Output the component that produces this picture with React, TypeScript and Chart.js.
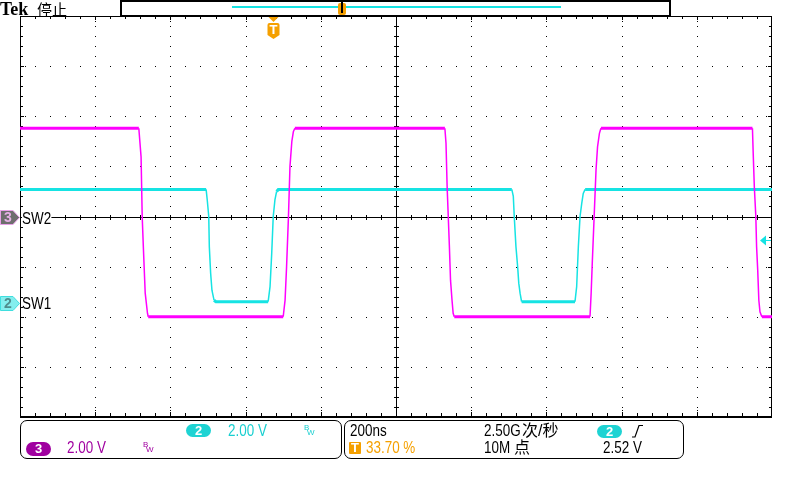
import React, { useEffect, useRef } from "react";
import { Chart, registerables } from "chart.js";

Chart.register(...registerables);

// ---- Horizontal (time) settings: 200 ns/div, 10 divisions ----
const TIME_MIN_NS = 0;
const TIME_MAX_NS = 2000;
const TIME_PER_DIV_NS = 200;
const DIVS_X = 10;
const DIVS_Y = 8;
const TRIGGER_TIME_NS = 674; // 33.70 % of record

// ---- Channel 3 (SW2, magenta): 2.00 V/div, position 0 div ----
const CH3_VOLTS_PER_DIV = 2;
const CH3_POSITION_DIV = 0;
const CH3_TIME_NS = [
  0, 316, 322, 325, 328, 333, 339, 341,
  700, 705, 709, 714, 718, 723, 727, 731,
  1130, 1133, 1136, 1139, 1142, 1145, 1149, 1152, 1155,
  1516, 1519, 1522, 1527, 1532, 1536, 1541, 1545,
  1948, 1950, 1953, 1957, 1959, 1962, 1965, 1968, 1973, 2000,
];
const CH3_VOLTS = [
  3.52, 3.52, 2.38, 0, -1.2, -3.06, -3.86, -4.0,
  -4.0, -3.34, -2.0, 0, 2.0, 3.0, 3.38, 3.52,
  3.52, 2.92, 1.18, 0, -1.2, -2.54, -3.34, -3.86, -4.0,
  -4.0, -3.06, -1.86, 0, 1.86, 2.78, 3.32, 3.52,
  3.52, 2.52, 1.18, 0, -1.2, -2.14, -3.34, -3.8, -4.0, -4.0,
];

// ---- Channel 2 (SW1, cyan): 2.00 V/div, position -1.73 div ----
const CH2_VOLTS_PER_DIV = 2;
const CH2_POSITION_DIV = -1.73;
const CH2_TIME_NS = [
  0, 495, 498, 502, 503.5, 507, 510.5, 516, 521,
  660, 665, 669.5, 673.5, 678, 682.5, 687,
  1308, 1312, 1314.5, 1319, 1323.5, 1326.5, 1330, 1334,
  1476, 1480.5, 1485, 1489.5, 1494, 1498, 1503, 2000,
];
const CH2_VOLTS = [
  4.54, 4.54, 4.12, 3.46, 2.26, 1.2, 0.52, 0.12, 0.06,
  0.06, 0.66, 2.0, 3.46, 4.12, 4.46, 4.54,
  4.54, 4.26, 3.46, 2.26, 1.46, 0.8, 0.4, 0.06,
  0.06, 0.66, 2.26, 3.46, 3.98, 4.38, 4.54, 4.54,
];
const TRIGGER_LEVEL_V = 2.52;

// ---- Readout texts ----
const CH_LABELS = ["SW2", "SW1"];
const READOUT_CH2 = "2.00 V";
const READOUT_CH3 = "2.00 V";
const READOUT_TIMEBASE = "200ns";
const READOUT_RATE_NUM = "2.50G";
const READOUT_RATE_UNIT = "次/秒";
const READOUT_TRIG_POS = "33.70 %";
const READOUT_LEN_NUM = "10M";
const READOUT_LEN_UNIT = "点";
const READOUT_TRIG_LEVEL = "2.52 V";

const MAGENTA = "#ff00ff";
const CYAN = "#16e3e3";
const CYAN_TXT = "#19cfd0";
const PURPLE = "#a000a0";
const ORANGE = "#f5a000";

const LAT = '"Liberation Sans", "Noto Sans CJK SC", sans-serif';

const toDiv = (v: number, vpd: number, pos: number) => v / vpd + pos;

const scopePlugin = {
  id: "scopeGraticule",
  beforeDatasetsDraw(chart: any) {
    const { ctx, chartArea: ca, scales } = chart;
    const xs = scales.x;
    const ys = scales.y;
    const px = (t: number) => Math.round(xs.getPixelForValue(t));
    const py = (v: number) => Math.round(ys.getPixelForValue(v));
    const minorT = TIME_PER_DIV_NS / 5;
    const nT = Math.round((TIME_MAX_NS - TIME_MIN_NS) / minorT);
    const nV = DIVS_Y * 5;
    const tAt = (i: number) => TIME_MIN_NS + i * minorT;
    const vAt = (j: number) => -DIVS_Y / 2 + j * 0.2;
    const w = ca.right - ca.left;
    const h = ca.bottom - ca.top;
    ctx.save();
    ctx.fillStyle = "#000";
    // vertical graticule lines
    for (let k = 1; k < DIVS_X; k++) {
      const x = px(TIME_MIN_NS + k * TIME_PER_DIV_NS);
      if (k === DIVS_X / 2) {
        ctx.fillRect(x, ca.top, 1, h);
        for (let j = 1; j < nV; j++) ctx.fillRect(x - 2, py(vAt(j)), 5, 1);
      } else {
        for (let j = 1; j < nV; j++) ctx.fillRect(x, py(vAt(j)), 1, 1);
      }
      for (const d of [1, 3, 5]) {
        ctx.fillRect(x, ca.top + d, 1, 1);
        ctx.fillRect(x, ca.bottom - 2 - d, 1, 1);
      }
    }
    // horizontal graticule lines
    for (let k = 1; k < DIVS_Y; k++) {
      const v = -DIVS_Y / 2 + k;
      const y = py(v);
      if (v === 0) {
        ctx.fillRect(ca.left, y, w, 1);
        for (let i = 1; i < nT; i++) ctx.fillRect(px(tAt(i)), y - 2, 1, 5);
      } else {
        for (let i = 1; i < nT; i++) ctx.fillRect(px(tAt(i)), y, 1, 1);
      }
      for (const d of [1, 3, 5]) {
        ctx.fillRect(ca.left + d, y, 1, 1);
        ctx.fillRect(ca.right - 1 - d, y, 1, 1);
      }
    }
    // border ticks
    for (let i = 1; i < nT; i++) {
      const x = px(tAt(i));
      ctx.fillRect(x, ca.top, 1, 3);
      ctx.fillRect(x, ca.bottom - 4, 1, 3);
    }
    for (let j = 1; j < nV; j++) {
      const y = py(vAt(j));
      ctx.fillRect(ca.left, y, 3, 1);
      ctx.fillRect(ca.right - 3, y, 3, 1);
    }
    // borders
    ctx.fillRect(ca.left, ca.top, 1, h);
    ctx.fillRect(ca.right - 1, ca.top, 1, h);
    ctx.fillRect(ca.left, ca.top, w, 1);
    ctx.fillRect(ca.left, ca.bottom - 1, w, 2);
    ctx.restore();
  },
  afterDatasetsDraw(chart: any) {
    const { ctx, chartArea: ca, scales } = chart;
    const xs = scales.x;
    const ys = scales.y;
    ctx.save();
    // trigger position marker
    const tx = Math.round(xs.getPixelForValue(TRIGGER_TIME_NS)) + 0.5;
    ctx.fillStyle = ORANGE;
    ctx.beginPath();
    ctx.moveTo(tx - 5, ca.top + 1);
    ctx.lineTo(tx + 5, ca.top + 1);
    ctx.lineTo(tx, ca.top + 6);
    ctx.closePath();
    ctx.fill();
    const st = ca.top + 7;
    ctx.beginPath();
    ctx.moveTo(tx - 6, st + 2);
    ctx.quadraticCurveTo(tx - 6, st, tx - 4, st);
    ctx.lineTo(tx + 4, st);
    ctx.quadraticCurveTo(tx + 6, st, tx + 6, st + 2);
    ctx.lineTo(tx + 6, st + 12);
    ctx.lineTo(tx, st + 16);
    ctx.lineTo(tx - 6, st + 12);
    ctx.closePath();
    ctx.fill();
    ctx.fillStyle = "#fff";
    ctx.font = 'bold 13px "Liberation Sans"';
    ctx.textAlign = "center";
    ctx.textBaseline = "middle";
    ctx.fillText("T", tx, st + 7);

    // channel ground markers
    const drawMarker = (yc: number, fill: string, stroke: string, txtCol: string, label: string) => {
      ctx.beginPath();
      ctx.moveTo(0.5, yc - 7);
      ctx.lineTo(13, yc - 7);
      ctx.lineTo(19.5, yc);
      ctx.lineTo(13, yc + 7);
      ctx.lineTo(0.5, yc + 7);
      ctx.closePath();
      ctx.fillStyle = fill;
      ctx.fill();
      ctx.strokeStyle = stroke;
      ctx.lineWidth = 1;
      ctx.stroke();
      ctx.fillStyle = txtCol;
      ctx.font = 'bold 14px "Liberation Sans"';
      ctx.textAlign = "center";
      ctx.textBaseline = "middle";
      ctx.fillText(label, 8, yc + 1);
    };
    drawMarker(Math.round(ys.getPixelForValue(CH3_POSITION_DIV)) + 0.5, "#6e6e6e", "#e8a0e8", "#e6b0e6", "3");
    drawMarker(Math.round(ys.getPixelForValue(CH2_POSITION_DIV)) + 0.5, "#84eeee", "#3fdede", "#4f8d8d", "2");

    // trigger level marker (right)
    const ly = Math.round(ys.getPixelForValue(toDiv(TRIGGER_LEVEL_V, CH2_VOLTS_PER_DIV, CH2_POSITION_DIV))) + 0.5;
    ctx.fillStyle = CYAN;
    ctx.beginPath();
    ctx.moveTo(ca.right - 12, ly);
    ctx.lineTo(ca.right - 6, ly - 5);
    ctx.lineTo(ca.right - 6, ly + 5);
    ctx.closePath();
    ctx.fill();
    ctx.fillRect(ca.right - 6, ly - 0.5, 5, 1);
    ctx.restore();
  },
};

function Txt(props: any) {
  const { x, base, size = 16, color = "#000", sx = 0.84, weight = 400, family = LAT, bg, children } = props;
  const top = base - 0.8465 * size;
  return (
    <span
      style={{
        position: "absolute",
        left: x,
        top,
        fontSize: size,
        lineHeight: `${size}px`,
        color,
        fontFamily: family,
        fontWeight: weight,
        whiteSpace: "nowrap",
        transform: `scaleX(${sx})`,
        transformOrigin: "0 0",
        background: bg,
      }}
    >
      {children}
    </span>
  );
}

function Pill(props: any) {
  const { x, y, w, h, bg, children, radius } = props;
  return (
    <div
      style={{
        position: "absolute",
        left: x,
        top: y,
        width: w,
        height: h,
        borderRadius: radius ?? h / 2,
        background: bg,
        color: "#fff",
        fontWeight: 700,
        fontSize: 13,
        lineHeight: `${h}px`,
        textAlign: "center",
        fontFamily: LAT,
      }}
    >
      {children}
    </div>
  );
}

function Bw(props: any) {
  const { x, base, color } = props;
  return (
    <>
      <Txt x={x} base={base} size={8} color={color} sx={1}>B</Txt>
      <Txt x={x + 3} base={base + 5} size={8} color={color} sx={1}>W</Txt>
    </>
  );
}

export default function App() {
  const canvasRef = useRef<HTMLCanvasElement | null>(null);

  useEffect(() => {
    const canvas = canvasRef.current;
    if (!canvas) return;
    const ch3 = CH3_TIME_NS.map((t, i) => ({ x: t, y: toDiv(CH3_VOLTS[i], CH3_VOLTS_PER_DIV, CH3_POSITION_DIV) }));
    const ch2 = CH2_TIME_NS.map((t, i) => ({ x: t, y: toDiv(CH2_VOLTS[i], CH2_VOLTS_PER_DIV, CH2_POSITION_DIV) }));
    const segWidth = (c: any) => (Math.abs(c.p0.parsed.y - c.p1.parsed.y) < 0.05 ? 3 : 1.5);
    const chart = new Chart(canvas, {
      type: "line",
      data: {
        datasets: [
          {
            label: "CH3 " + CH_LABELS[0],
            data: ch3,
            borderColor: MAGENTA,
            borderWidth: 1.5,
            pointRadius: 0,
            tension: 0,
            fill: false,
            segment: { borderWidth: segWidth },
          },
          {
            label: "CH2 " + CH_LABELS[1],
            data: ch2,
            borderColor: CYAN,
            borderWidth: 1.5,
            pointRadius: 0,
            tension: 0,
            fill: false,
            segment: { borderWidth: segWidth },
          },
        ],
      },
      options: {
        animation: false,
        responsive: false,
        devicePixelRatio: 1,
        events: [],
        layout: { padding: { left: 20, right: 28, top: 16, bottom: 63 } },
        plugins: { legend: { display: false }, tooltip: { enabled: false } },
        scales: {
          x: { type: "linear", min: TIME_MIN_NS, max: TIME_MAX_NS, display: false },
          y: { type: "linear", min: -DIVS_Y / 2, max: DIVS_Y / 2, display: false },
        },
      },
      plugins: [scopePlugin],
    } as any);
    return () => chart.destroy();
  }, []);

  return (
    <div
      style={{
        position: "absolute",
        left: 0,
        top: 0,
        width: 800,
        height: 480,
        background: "#fff",
        overflow: "hidden",
        fontFamily: LAT,
      }}
    >
      <canvas ref={canvasRef} width={800} height={480} style={{ position: "absolute", left: 0, top: 0, width: 800, height: 480 }} />

      {/* top bar */}
      <Txt x={0} base={15} size={18} weight={700} sx={1} family='"Liberation Serif", serif'>Tek</Txt>
      <Txt x={37} base={15} size={15} sx={1}>停止</Txt>
      <div
        style={{
          position: "absolute",
          left: 120,
          top: 0,
          width: 551,
          height: 17,
          border: "2px solid #000",
          boxSizing: "border-box",
          background: "#fff",
        }}
      />
      <div style={{ position: "absolute", left: 232, top: 6, width: 329, height: 1.5, background: CYAN }} />
      <div style={{ position: "absolute", left: 338, top: 3, width: 8, height: 12, background: ORANGE, borderRadius: 2 }} />
      <div style={{ position: "absolute", left: 341, top: 0, width: 2, height: 13, background: "#000" }} />

      {/* channel labels */}
      <Txt x={22} base={225} bg="#fff">{CH_LABELS[0]}</Txt>
      <Txt x={22} base={310}>{CH_LABELS[1]}</Txt>

      {/* bottom readout box 1 */}
      <div
        style={{
          position: "absolute",
          left: 20,
          top: 420,
          width: 322,
          height: 39,
          border: "1px solid #000",
          borderRadius: 7,
          boxSizing: "border-box",
        }}
      />
      <Pill x={186} y={424} w={25} h={13} bg="#1ed3d3">2</Pill>
      <Txt x={228} base={437} color={CYAN_TXT}>{READOUT_CH2}</Txt>
      <Bw x={304} base={431} color={CYAN_TXT} />
      <Pill x={26} y={442} w={25} h={14} bg={PURPLE}>3</Pill>
      <Txt x={67} base={454} color={PURPLE}>{READOUT_CH3}</Txt>
      <Bw x={143} base={448} color={PURPLE} />

      {/* bottom readout box 2 */}
      <div
        style={{
          position: "absolute",
          left: 344,
          top: 420,
          width: 340,
          height: 39,
          border: "1px solid #000",
          borderRadius: 7,
          boxSizing: "border-box",
        }}
      />
      <Txt x={350} base={437}>{READOUT_TIMEBASE}</Txt>
      <Txt x={484} base={437}>{READOUT_RATE_NUM}</Txt>
      <Txt x={522} base={437} sx={1}>{READOUT_RATE_UNIT}</Txt>
      <Pill x={597} y={425} w={25} h={13} bg="#1ed3d3">2</Pill>
      <svg style={{ position: "absolute", left: 631, top: 424, width: 14, height: 14 }} viewBox="0 0 14 14">
        <polyline points="1,13 4,13 8,1.5 12,1.5" fill="none" stroke="#000" strokeWidth={1.2} />
      </svg>
      <Pill x={349} y={442} w={12} h={12} bg={ORANGE} radius={1}>T</Pill>
      <Txt x={366} base={454} color={ORANGE}>{READOUT_TRIG_POS}</Txt>
      <Txt x={484} base={454}>{READOUT_LEN_NUM}</Txt>
      <Txt x={514} base={454} sx={1}>{READOUT_LEN_UNIT}</Txt>
      <Txt x={603} base={454}>{READOUT_TRIG_LEVEL}</Txt>
    </div>
  );
}
